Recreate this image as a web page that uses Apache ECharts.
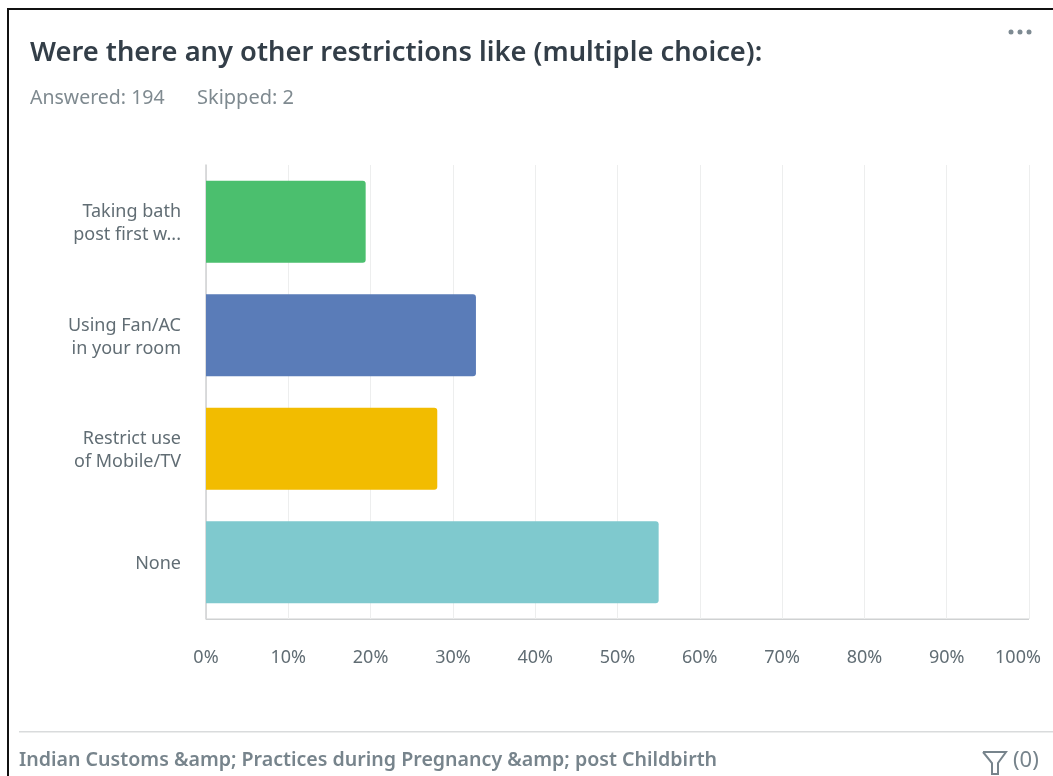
<!DOCTYPE html>
<html><head><meta charset="utf-8">
<style>html,body{margin:0;padding:0;background:#fff}#c{width:1053px;height:776px}</style>
<script src="https://cdn.jsdelivr.net/npm/echarts@6/dist/echarts.min.js"></script>
</head><body><div id="c"></div>
<script>
const categories = ['Taking bath\npost first w...', 'Using Fan/AC\nin your room', 'Restrict use\nof Mobile/TV', 'None'];
const values = [19.4, 32.8, 28.1, 55.0];
const barColors = ['#4BBF6E', '#5A7CB8', '#F2BC00', '#7FC9CE'];
const titleText = 'Were there any other restrictions like (multiple choice):';
const answeredText = 'Answered: 194';
const skippedText = 'Skipped: 2';
const footerText = 'Indian Customs &amp; Practices during Pregnancy &amp; post Childbirth';
const filterText = '(0)';
const font = '"Noto Sans", "Open Sans", sans-serif';
const chart = echarts.init(document.getElementById('c'), null, {renderer: 'canvas'});
chart.setOption({
  animation: false,
  backgroundColor: '#fff',
  grid: {left: 206, right: 24, top: 165, bottom: 157, containLabel: false},
  xAxis: {
    type: 'value', min: 0, max: 100, interval: 10,
    axisLine: {show: false}, axisTick: {show: false},
    axisLabel: {
      formatter: v => v === 100 ? '{last|100%}' : v + '%',
      color: '#616D74', fontFamily: font, fontSize: 18, margin: 30, hideOverlap: false,
      rich: {last: {color: '#616D74', fontFamily: font, fontSize: 18, padding: [0, 22, 0, 0]}}
    },
    splitLine: {show: true, lineStyle: {color: '#EDEEEE', width: 1}}
  },
  yAxis: {
    type: 'category', inverse: true, data: categories,
    axisLine: {show: true, onZero: false, lineStyle: {color: '#CFD1D2', width: 1.5}},
    axisTick: {show: false},
    axisLabel: {
      formatter: v => v.split('\n').map(s => '{t|' + s + '}').join('\n'),
      margin: 25, align: 'right', padding: [4, 0, 0, 0],
      rich: {t: {color: '#616D74', fontFamily: font, fontSize: 18, lineHeight: 23, align: 'right'}}
    }
  },
  series: [{
    type: 'bar', barWidth: 82,
    data: values.map((v, i) => ({value: v, itemStyle: {color: barColors[i]}})),
    itemStyle: {borderRadius: [0, 3, 3, 0]}
  }],
  graphic: [
    {type: 'rect', shape: {x: 7, y: 8, width: 1046, height: 2}, style: {fill: '#111'}, silent: true},
    {type: 'rect', shape: {x: 7, y: 8, width: 2, height: 768}, style: {fill: '#111'}, silent: true},
    {type: 'rect', shape: {x: 206, y: 618.5, width: 823, height: 1.5}, style: {fill: '#CFD1D2'}, silent: true},
    {type: 'text', x: 30, y: 53, style: {text: titleText, font: '600 27.3px ' + font, fill: '#333E48', textVerticalAlign: 'middle'}},
    {type: 'text', x: 30, y: 98, style: {text: answeredText, font: '19.5px ' + font, fill: '#7F8A90', textVerticalAlign: 'middle'}},
    {type: 'text', x: 197, y: 98, style: {text: skippedText, font: '20px ' + font, fill: '#7F8A90', textVerticalAlign: 'middle'}},
    {type: 'circle', shape: {cx: 1011, cy: 32, r: 2.5}, style: {fill: '#7D8A92'}},
    {type: 'circle', shape: {cx: 1020, cy: 32, r: 2.5}, style: {fill: '#7D8A92'}},
    {type: 'circle', shape: {cx: 1029, cy: 32, r: 2.5}, style: {fill: '#7D8A92'}},
    {type: 'rect', shape: {x: 19, y: 731, width: 1034, height: 1.5}, style: {fill: '#D9DBDC'}},
    {type: 'text', x: 19, y: 760, style: {text: footerText, font: '600 19.6px ' + font, fill: '#77848C', textVerticalAlign: 'middle'}},
    {type: 'polyline', shape: {points: [[983, 752], [1006, 752], [998, 763], [998, 774], [992, 774], [992, 763], [983, 752]]}, style: {fill: 'none', stroke: '#77848C', lineWidth: 2}},
    {type: 'text', x: 1013, y: 761, style: {text: filterText, font: '22px ' + font, fill: '#77848C', textVerticalAlign: 'middle'}}
  ]
});
</script></body></html>
